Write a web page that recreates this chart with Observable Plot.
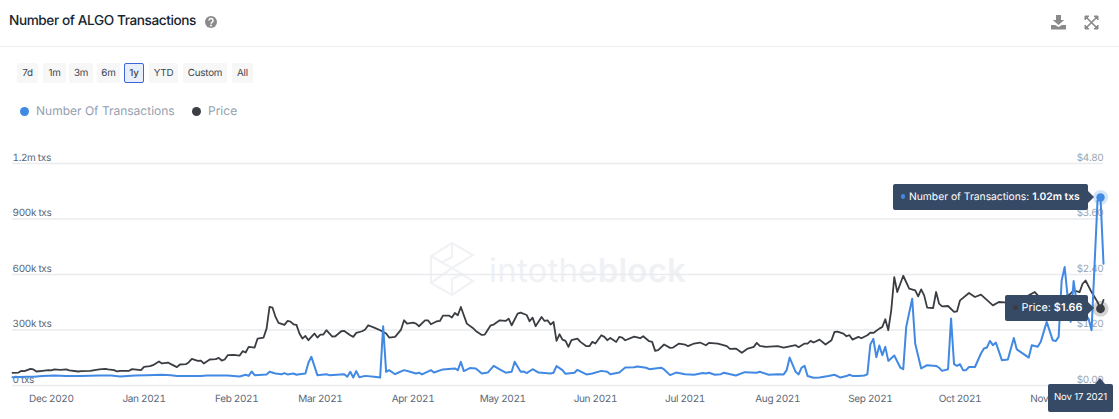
<!DOCTYPE html>
<html>
<head>
<meta charset="utf-8">
<script src="https://cdn.jsdelivr.net/npm/d3@7"></script>
<script src="https://cdn.jsdelivr.net/npm/@observablehq/plot@0.6"></script>
<style>
html,body{margin:0;padding:0;background:#fff;overflow:hidden;width:1119px;height:419px;font-family:Inter,sans-serif;text-rendering:geometricPrecision}
#page{position:relative;width:1119px;height:419px;overflow:hidden}
#head{position:relative;height:140px}
#title{position:absolute;left:9px;top:12px;font-size:13.6px;letter-spacing:-.4px;font-weight:500;color:#17242f;line-height:18px;white-space:nowrap}
#rule{position:absolute;left:0;right:0;top:46px;height:1px;background:#eceeef}
.btn{position:absolute;top:63px;height:20px;line-height:22px;text-align:center;background:#f7f7f7;color:#3d4650;font-size:9.8px;letter-spacing:-.2px;border-radius:2px;box-sizing:border-box}
.btn.on{background:#e9eefb;border:1px solid #3f63d8;line-height:20px;font-weight:500}
.lg{position:absolute;top:102.5px;font-size:12px;line-height:16px;color:#93a0ae;white-space:nowrap}
.ld{position:absolute;top:106.5px;width:9px;height:9px;border-radius:50%}
#wm{position:absolute;left:489px;top:250px;font-size:33px;line-height:40px;color:#eff1f5;font-weight:400;white-space:nowrap;letter-spacing:.2px}
#wm b{font-weight:600}
#chart{position:relative}
#chart svg{display:block;background:transparent!important}
.tip{position:absolute;background:#364a66;color:#fff;border-radius:2px;box-sizing:border-box;white-space:nowrap;font-size:10.3px}
.tip b{font-weight:600}
.tip .a{position:absolute;width:0;height:0}
</style>
</head>
<body>
<div id="page">
  <svg id="logo" width="46" height="56" viewBox="0 0 46 56" style="position:absolute;left:429px;top:241px" fill="none" stroke="#f0f2f5" stroke-width="2.2">
    <path d="M23 2 L44 14 L23 27 L44 40 L23 54 L2 42 L2 15 Z"/><path d="M2 15 L23 27 L2 42"/><path d="M23 2 V16 L12 22"/><path d="M23 54 V38 L34 33"/>
  </svg>
  <div id="wm">intothe<b>block</b></div>
  <div id="head">
    <div id="title">Number of ALGO Transactions</div>
    <svg width="14" height="14" viewBox="0 0 14 14" style="position:absolute;left:204px;top:15px"><circle cx="7" cy="7" r="6" fill="#8b8b8b"/><path d="M5 5.600a2 2 0 1 1 3 1.700c-.7.4-1 .8-1 1.500" fill="none" stroke="#fff" stroke-width="1.500"/><circle cx="7" cy="10.500" r=".9" fill="#fff"/></svg>
    <svg width="17" height="16" viewBox="0 0 17 16" style="position:absolute;left:1050px;top:14px" fill="#8a8a8a"><path d="M6 1h5v5h3.2L8.500 11 2.800 6H6z"/><path d="M1 11h4l3.500 2 3.500-2h4v4.500H1z"/></svg>
    <svg width="15" height="15" viewBox="0 0 15 15" style="position:absolute;left:1084px;top:15px" fill="#8a8a8a" stroke="#8a8a8a"><path d="M1 1h4L1 5zM14 1v4L10 1zM1 14v-4l4 4zM14 14h-4l4-4z"/><path d="M3 3l9 9M12 3l-9 9" stroke-width="1.600"/></svg>
    <div id="rule"></div>
    <div class="btn" style="left:17px;width:21px">7d</div>
    <div class="btn" style="left:43px;width:23px">1m</div>
    <div class="btn" style="left:69px;width:24px">3m</div>
    <div class="btn" style="left:97px;width:23px">6m</div>
    <div class="btn on" style="left:124px;width:20px">1y</div>
    <div class="btn" style="left:149px;width:29px">YTD</div>
    <div class="btn" style="left:183px;width:44px">Custom</div>
    <div class="btn" style="left:232px;width:21px">All</div>
    <div class="ld" style="left:19.500px;background:#4189e3"></div>
    <div class="lg" style="left:36px">Number Of Transactions</div>
    <div class="ld" style="left:191.500px;background:#3c3f44"></div>
    <div class="lg" style="left:208px">Price</div>
  </div>
  <div id="chart"></div>
</div>
<script>
const startDate = new Date("2020-11-18T00:00:00Z");
const dayCount = 365;
const hoverDay = 364;
const yTicks = [0, 300000, 600000, 900000, 1200000];
const priceScaleMax = 4.8;
const txScaleMax = 1200000;

// [days since startDate, ALGO price in USD]
const priceSeries = [[0,.275],[2,.28],[3,.318],[4,.31],[6,.36],[7,.347],[8,.303],[10,.318],[12,.332],[13,.325],[14,.347],[16,.34],[18,.347],[19,.325],[22,.303],[23,.31],[26,.318],[28,.34],[29,.347],[31,.36],[32,.347],[34,.332],[35,.303],[36,.318],[39,.318],[40,.354],[43,.332],[44,.404],[46,.418],[47,.44],[49,.519],[50,.476],[52,.497],[53,.462],[55,.397],[56,.454],[58,.462],[59,.505],[60,.576],[62,.533],[63,.54],[64,.476],[66,.562],[68,.569],[69,.598],[70,.54],[71,.562],[72,.656],[74,.663],[76,.648],[77,.742],[78,.713],[79,.835],[81,.821],[82,1.015],[84,1.036],[85,1.23],[86,1.698],[87,1.683],[88,1.482],[89,1.353],[91,1.31],[92,1.396],[93,1.381],[94,1.324],[95,1.31],[96,1.123],
[97,1.015],[98,1.072],[99,.979],[101,1.123],[102,1.036],[103,1.101],[104,1.101],[105,1.195],[107,1.058],[108,1.065],[110,1.173],[111,1.18],[113,1.087],[114,1.051],[115,1.137],[117,1.173],[118,1.209],[119,1.302],[121,1.252],[123,1.195],[125,1.123],[126,1.036],[128,1.051],[130,1.209],[131,1.41],[132,1.338],[134,1.36],[135,1.338],[136,1.281],[138,1.41],[139,1.41],[140,1.324],[142,1.389],[143,1.396],[144,1.511],[146,1.511],[147,1.468],[148,1.568],[149,1.518],[150,1.698],[152,1.338],[154,1.245],[155,1.18],[157,1.094],[158,1.101],[160,1.302],[161,1.317],[163,1.41],[165,1.396],[166,1.446],[167,1.302],[169,1.554],[170,1.575],[172,1.525],[173,1.389],[174,1.468],[175,1.281],[177,1.482],[178,1.396],[179,1.41],[180,1.317],[181,1.374],[182,.965],[183,1.108],[184,.993],[185,.965],[186,.835],[187,.979],[189,1.015],[190,.943],[192,.85],[193,.85],[194,.943],[195,.907],[197,1.087],
[198,1.051],[199,.979],[200,1.029],[202,.943],[203,1.051],[204,1.036],[205,.979],[208,1.058],[210,1.022],[211,1.065],[213,.957],[214,.943],[215,.749],[216,.763],[218,.886],[220,.814],[221,.821],[223,.907],[225,.886],[226,.85],[228,.907],[230,.929],[232,.871],[233,.921],[236,.907],[239,.85],[240,.792],[242,.799],[244,.706],[246,.799],[248,.835],[249,.921],[250,.857],[252,.835],[256,.85],[258,.821],[262,.871],[263,.828],[265,.907],[266,.907],[267,.965],[268,.929],[270,.993],[272,.886],[274,.979],[275,1.159],[276,1.166],[278,1.123],[279,1.065],[280,1.087],[281,.993],[283,1.051],[284,1.022],[286,1.087],[287,1.144],[288,1.137],[290,1.23],[291,1.266],[292,1.432],[293,1.195],[294,1.63],[295,2.344],[296,2.021],[298,2.373],[300,2.093],[302,2.057],[303,1.928],[304,2.078],[305,1.949],[306,1.683],[308,1.676],[309,2.021],[310,1.769],[311,1.712],[313,1.719],[315,1.59],[316,1.604],[317,1.841],[320,2.0],[322,1.913],[324,1.964],[328,1.733],[330,1.805],[333,1.791],[336,1.84],[339,1.913],[340,1.949],[342,2.021],[344,1.877],[346,1.85],[350,1.9],[353,1.95],[354,1.985],[355,2.057],[357,2.02],[358,2.2],[359,2.27],[361,2.02],[362,1.913],[363,1.805],[364,1.66],[365,1.85]];

// [days since startDate, number of transactions in thousands]
const txSeries = [[0,45],[5,47],[7,47],[10,51],[14,54],[18,51],[23,52],[29,54],[33,54],[36,49],[41,54],[45,56],[50,58],[53,56],[55,51],[61,52],[63,51],[65,54],[72,54],[76,49],[78,58],[79,52],[80,76],[81,56],[85,60],[86,74],[88,65],[90,61],[91,67],[92,60],[94,65],[95,58],[96,61],
[98,65],[99,123],[100,155],[102,56],[105,61],[106,56],[111,61],[112,47],[113,74],[114,43],[115,78],[116,45],[118,52],[121,47],[123,43],[124,320],[125,74],[126,83],[128,61],[129,69],[131,83],[133,74],[135,65],[136,69],[137,60],[140,83],[141,70],[144,87],[148,92],[149,83],[150,128],[151,78],[153,94],[155,92],[157,65],[159,70],[161,106],[163,87],[165,69],[167,74],[168,128],[170,74],[171,76],[172,67],[174,88],[176,70],[180,65],[181,69],[182,105],[184,83],[185,63],[188,69],[189,85],[192,60],[194,65],[197,79],
[199,74],[200,61],[203,70],[205,97],[208,99],[209,103],[212,96],[213,88],[217,96],[218,87],[220,56],[222,70],[225,61],[228,58],[231,67],[232,65],[233,69],[235,58],[237,61],[238,69],[242,54],[245,72],[249,69],[250,74],[253,58],[256,61],[258,60],[259,83],[260,151],[262,74],[263,60],[264,97],[265,106],[266,51],[268,42],[270,43],[273,51],[275,58],[277,43],[279,51],[280,58],[281,52],[283,51],[285,54],[286,60],[287,222],[288,252],[289,153],[290,216],[291,164],[292,209],[293,133],[295,162],[297,97],[298,88],[299,317],[301,469],[302,227],[304,92],[306,110],[309,106],[310,96],[311,79],[313,88],[314,362],[315,115],[316,106],[317,115],[318,83],[319,83],[320,100],[322,100],[324,173],[325,200],[326,205],[327,241],[328,218],[329,232],[331,137],[333,141],[335,257],[336,195],[340,151],[341,218],[343,209],[344,236],[346,344],[348,245],[349,240],[350,263],[351,568],[352,640],[353,480],[354,344],[355,565],[356,450],[358,400],[360,362],[361,299],[362,650],[363,1000],[364,1016],[365,658]];

const dateOf = d => d3.utcDay.offset(startDate, d);
const toTxAxis = p => p * txScaleMax / priceScaleMax;
const priceRows = priceSeries.map(([d, v]) => ({date: dateOf(d), y: toTxAxis(v)}));
const txRows = txSeries.map(([d, v]) => ({date: dateOf(d), y: v * 1000}));
const hoverDate = dateOf(hoverDay);
const hoverTx = txSeries.find(r => r[0] === hoverDay)[1] * 1000;
const hoverPrice = toTxAxis(priceSeries.find(r => r[0] === hoverDay)[1]);

const plot = Plot.plot({
  width: 1119, height: 279,
  marginLeft: 12, marginRight: 16, marginTop: 23, marginBottom: 34,
  style: {fontFamily: "Inter, sans-serif", fontSize: "10px", letterSpacing: "-.35px", background: "transparent", overflow: "visible"},
  x: {type: "utc", domain: [startDate, dateOf(dayCount)]},
  y: {domain: [0, txScaleMax]},
  marks: [
    Plot.ruleY(yTicks, {stroke: "#e9ebee", strokeWidth: 1.4}),
    Plot.axisX({ticks: d3.utcMonth.range(startDate, dateOf(dayCount)), tickFormat: d3.utcFormat("%b %Y"), tickSize: 0, tickPadding: 9, label: null, fill: "#5b6777", textStroke: "none"}),
    Plot.axisY({anchor: "left", ticks: yTicks, tickSize: 0, tickPadding: 0, textAnchor: "start", dy: -6, label: null, fill: "#5b6777",
      tickFormat: d => d === 0 ? "0 txs" : d >= 1e6 ? (d / 1e6) + "m txs" : (d / 1e3) + "k txs"}),
    Plot.axisY({anchor: "right", ticks: yTicks, tickSize: 0, tickPadding: 0, textAnchor: "end", dy: -6, label: null, fill: "#9ba5b0",
      tickFormat: d => "$" + (d * priceScaleMax / txScaleMax).toFixed(2)}),
    Plot.line(priceRows, {x: "date", y: "y", stroke: "#3a3d42", strokeWidth: 1.8}),
    Plot.line(txRows, {x: "date", y: "y", stroke: "#4189e3", strokeWidth: 2}),
    Plot.dot([{x: hoverDate, y: hoverTx}], {x: "x", y: "y", r: 7.5, fill: "#4189e3", fillOpacity: .22}),
    Plot.dot([{x: hoverDate, y: hoverTx}], {x: "x", y: "y", r: 4.2, fill: "#4189e3"}),
    Plot.dot([{x: hoverDate, y: hoverPrice}], {x: "x", y: "y", r: 8, fill: "#3a3d42", fillOpacity: .22}),
    Plot.dot([{x: hoverDate, y: hoverPrice}], {x: "x", y: "y", r: 4.4, fill: "#3a3d42"})
  ]
});
const chart = document.getElementById("chart");
chart.appendChild(plot);

// tooltips follow the hovered point through the chart's scales
const px = plot.scale("x").apply(hoverDate);
const tipOf = (right, midY, h, w, html) => {
  const t = document.createElement("div");
  t.className = "tip";
  t.style.cssText = `left:${right - w}px;top:${midY - h / 2}px;width:${w}px;height:${h}px;line-height:${h}px`;
  t.innerHTML = html + `<span class="a" style="right:-6px;top:${h / 2 - 6}px;border-left:6px solid #364a66;border-top:6px solid transparent;border-bottom:6px solid transparent"></span>`;
  chart.appendChild(t);
};
const yTx = plot.scale("y").apply(hoverTx), yPrice = plot.scale("y").apply(hoverPrice);
const bullet = c => `<span style="display:inline-block;width:4.500px;height:4.500px;border-radius:50%;background:${c};margin:0 4px 1px 8px"></span>`;
tipOf(px - 12, yTx, 26.5, 195.5, bullet("#4189e3") + `Number of Transactions: <b>${(hoverTx / 1e6).toFixed(2)}m txs</b>`);
tipOf(px - 12, yPrice, 26.5, 83, bullet("#3a3d42") + `<span style="font-size:10.8px">Price: </span><b style="font-size:10.8px">$${(hoverPrice * priceScaleMax / txScaleMax).toFixed(2)}</b>`);
const dt = document.createElement("div");
dt.className = "tip";
dt.style.cssText = `left:${px - 52}px;top:244px;width:65px;height:27.500px;line-height:27.500px;text-align:center;font-size:9.6px;letter-spacing:-.15px`;
dt.innerHTML = d3.utcFormat("%b %-d %Y")(hoverDate) + `<span class="a" style="left:47px;top:-6px;border-bottom:6px solid #364a66;border-left:5.500px solid transparent;border-right:5.500px solid transparent"></span>`;
chart.appendChild(dt);
</script>
</body>
</html>
